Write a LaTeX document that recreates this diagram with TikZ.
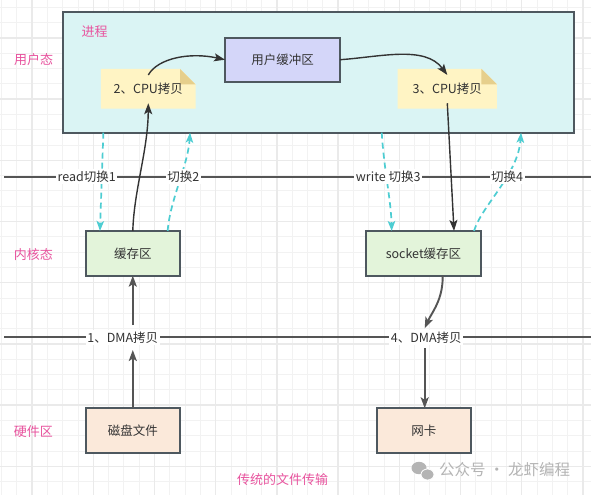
\documentclass[tikz,border=0pt]{standalone}
\usepackage{fontspec}
\setmainfont{Noto Sans CJK SC}
\usetikzlibrary{arrows.meta}
\definecolor{procfill}{HTML}{DAF4F4}
\definecolor{bordercol}{HTML}{4E585F}
\definecolor{ubfill}{HTML}{D4D6F9}
\definecolor{notefill}{HTML}{FFF4C4}
\definecolor{foldcol}{HTML}{E6CF8C}
\definecolor{greenfill}{HTML}{E3F4DA}
\definecolor{peachfill}{HTML}{FBE9DA}
\definecolor{pinktext}{HTML}{E8539E}
\definecolor{cyanline}{HTML}{4DCDD2}
\definecolor{linecol}{HTML}{555555}
\definecolor{cpucol}{HTML}{333333}
\definecolor{textcol}{HTML}{333333}
\definecolor{wmcol}{HTML}{B4B4B4}
\definecolor{gridminor}{HTML}{F2F2F2}
\definecolor{gridmajor}{HTML}{EAEAEA}
\newcommand\mainfs{\fontsize{12.5}{15}\selectfont}
\newcommand\pinkfs{\fontsize{13}{15}\selectfont}
\begin{document}
\begin{tikzpicture}[x=1pt,y=-1pt,
  box/.style={draw=bordercol, line width=1.8pt, inner sep=0pt, outer sep=0pt, text=textcol, font=\mainfs},
  notebox/.style={fill=procfill, inner sep=0pt, outer sep=0pt, text=textcol, font=\mainfs,
    path picture={
      \fill[notefill] (path picture bounding box.south west) -- (path picture bounding box.north west)
        -- ([xshift=-15.5pt]path picture bounding box.north east)
        -- ([yshift=-15.5pt]path picture bounding box.north east)
        -- (path picture bounding box.south east) -- cycle;
      \fill[foldcol] ([xshift=-15.5pt]path picture bounding box.north east)
        -- ([xshift=-15.5pt,yshift=-15.5pt]path picture bounding box.north east)
        -- ([yshift=-15.5pt]path picture bounding box.north east) -- cycle;}},
  pinklabel/.style={text=pinktext, font=\pinkfs, inner sep=0pt},
  linelabel/.style={fill=white, text=textcol, font=\mainfs, inner sep=1.5pt},
  sepline/.style={draw=linecol, line width=1.8pt},
  dma/.style={draw=linecol, line width=1.9pt, -{Stealth[length=11pt,width=8pt,inset=2.5pt]}},
  cpu/.style={draw=cpucol, line width=1.4pt, -{Stealth[length=11pt,width=8pt,inset=2.5pt]}},
  sw/.style={draw=cyanline, line width=1.7pt, dash pattern=on 6pt off 4pt, -{Stealth[length=10pt,width=7.5pt,inset=2.5pt]}}
]
\useasboundingbox (0,0) rectangle (591,495);
\fill[white] (0,0) rectangle (591,495);
% grid
\foreach \i in {0,...,38} {\draw[gridminor, line width=1pt] ({1.5+15.3*\i},0) -- ({1.5+15.3*\i},495);}
\foreach \i in {0,...,32} {\draw[gridminor, line width=1pt] (0,{7.3+15.3*\i}) -- (591,{7.3+15.3*\i});}
\foreach \i in {2,6,...,38} {\draw[gridmajor, line width=1.3pt] ({1.5+15.3*\i},0) -- ({1.5+15.3*\i},495);}
\foreach \i in {2,6,...,30} {\draw[gridmajor, line width=1.3pt] (0,{7.3+15.3*\i}) -- (591,{7.3+15.3*\i});}

% boxes
\node[box, fill=procfill, minimum width=510.7pt, minimum height=121pt] (proc) at (318.7,72.2) {};
\node[pinklabel] (proclabel) at (94.5,32) {进程};
\node[box, fill=ubfill, minimum width=115pt, minimum height=44pt] (ub) at (282.5,59.7) {用户缓冲区};
\node[notebox, minimum width=94.7pt, minimum height=39.7pt] (n2) at (148.3,88.8) {2、CPU拷贝};
\node[notebox, minimum width=99.3pt, minimum height=39.7pt] (n3) at (447.3,88.8) {3、CPU拷贝};
\node[box, fill=greenfill, minimum width=94.3pt, minimum height=44.7pt] (buf) at (132.8,253.3) {缓存区};
\node[box, fill=greenfill, minimum width=115pt, minimum height=44.7pt] (sock) at (423.5,253.3) {socket缓存区};
\node[box, fill=peachfill, minimum width=94.3pt, minimum height=44.4pt] (disk) at (132.8,430.5) {磁盘文件};
\node[box, fill=peachfill, minimum width=94.3pt, minimum height=44.4pt] (nic) at (423.8,430.5) {网卡};

% side labels
\node[pinklabel] (user) at (33.5,60) {用户态};
\node[pinklabel] (kern) at (33.3,255) {内核态};
\node[pinklabel] (hw) at (33.3,431.7) {硬件区};
\node[pinklabel] (title) at (282.5,479.3) {传统的文件传输};

% separator lines
\coordinate (l1a) at (4,176.7);
\coordinate (l1b) at (591,176.7);
\coordinate (l2a) at (4,336.7);
\coordinate (l2b) at (591,336.7);
\draw[sepline] (l1a) -- (l1b);
\draw[sepline] (l2a) -- (l2b);

% dashed switch arrows
\draw[sw] ([xshift=40pt]proc.south west) -- ([xshift=14.3pt]buf.north west);
\draw[sw] ([xshift=82pt]buf.north west) .. controls (170,200) and (188,165) .. ([xshift=126.7pt]proc.south west);
\draw[sw] ([xshift=318.4pt]proc.south west) .. controls (384,170) and (391,200) .. ([xshift=25.7pt]sock.north west);
\draw[sw] ([xshift=108pt]sock.north west) .. controls (482,205) and (518,175) .. ([xshift=457.7pt]proc.south west);

% CPU copies
\draw[cpu] (buf.north) .. controls (134,190) and (148,150) .. ([yshift=5.4pt]n2.south);
\draw[cpu] ([yshift=-6pt]n2.north) .. controls (158,58) and (190,52) .. (ub.west);
\draw[cpu] (ub.east) .. controls (380,57) and (425,45) .. ([yshift=-6pt]n3.north);
\draw[cpu] ([yshift=5.4pt]n3.south) -- ([xshift=30.5pt]sock.north);

% DMA copies
\coordinate (d1a) at (132.8,350);
\coordinate (d1b) at (132.8,325);
\coordinate (d4a) at (424.7,328.3);
\coordinate (d4b) at (424.7,348.3);
\draw[dma] (disk.north) -- (d1a);
\draw[dma] (d1b) -- (buf.south);
\draw[dma] ([xshift=19.2pt]sock.south) .. controls (443,300) and (432,312) .. (d4a);
\draw[dma] (d4b) -- (d4b |- nic.north);

% line labels
\node[linelabel] (s1) at (86.7,176.7) {read切换1};
\node[linelabel] (s2) at (183.3,176.7) {切换2};
\node[linelabel] (s3) at (388.2,176.7) {write 切换3};
\node[linelabel] (s4) at (507.2,176.7) {切换4};
\node[linelabel] (c1) at (122.8,337.5) {1、DMA拷贝};
\node[linelabel] (c4) at (426.3,337.5) {4、DMA拷贝};

% watermark
\fill[wmcol] (419,468) ellipse (7.5 and 6.2);
\fill[wmcol, draw=white, line width=0.8pt] (427.5,474.5) ellipse (6.5 and 5.5);
\node[text=wmcol, font=\fontsize{15.5}{17}\selectfont, inner sep=0pt, anchor=west] (wm) at (439,470) {公众号 · 龙虾编程};
\end{tikzpicture}
\end{document}
